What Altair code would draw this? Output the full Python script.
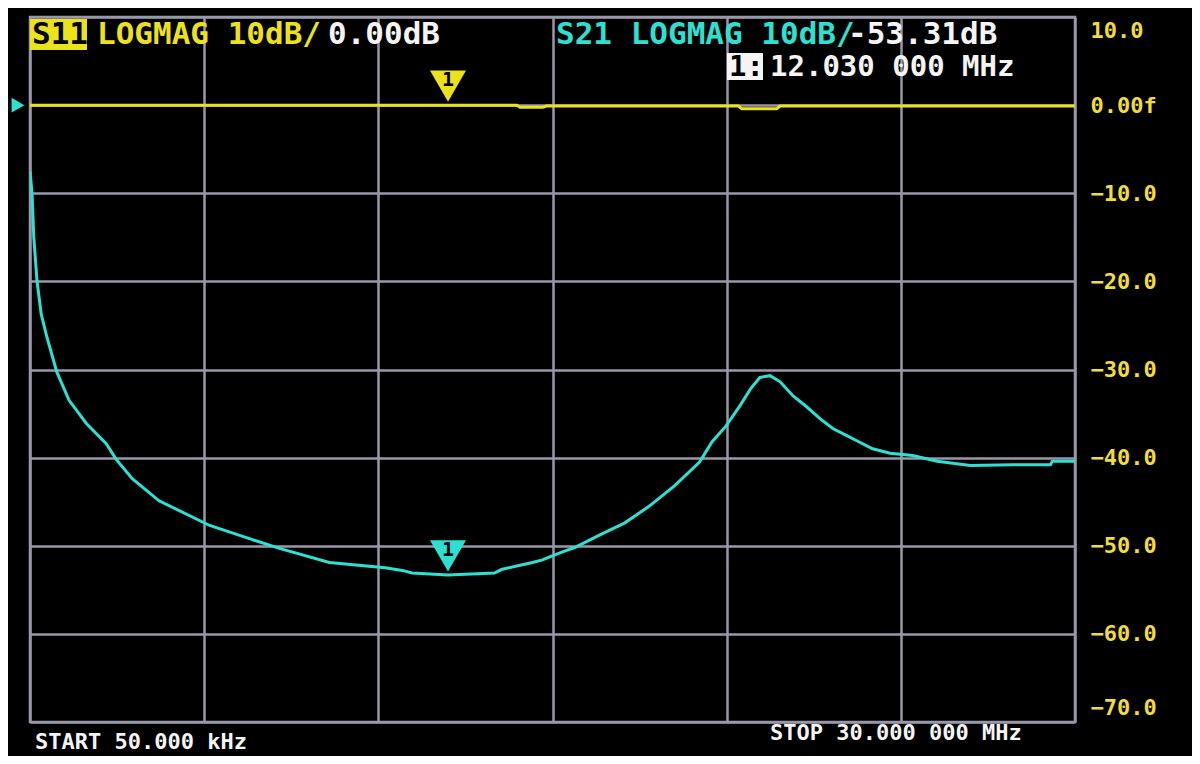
import altair as alt
import pandas as pd

# ---- data ----
s21_freq_mhz = [0.05, 0.11, 0.16, 0.25, 0.37, 0.54, 0.82, 1.17, 1.66, 2.23, 2.52, 2.98,
                3.75, 5.2, 6.34, 7.2, 8.63, 10.23, 10.72, 11.0, 12.03, 13.36, 13.56,
                14.0, 14.45, 14.74, 15.05, 15.37, 15.66, 16.37, 17.1, 17.8, 18.52,
                19.24, 19.6, 20.0, 20.4, 20.7, 20.97, 21.26, 21.55, 21.92, 22.3, 22.7,
                23.06, 23.46, 23.8, 24.2, 24.7, 25.35, 26.05, 27.0, 28.2, 29.3, 29.35, 30.0]
s21_db = [-7.5, -10.1, -15.1, -19.9, -23.7, -26.4, -30.3, -33.5, -36.1, -38.4, -40.2, -42.4,
          -44.9, -47.7, -49.2, -50.3, -51.9, -52.5, -52.8, -53.1, -53.31, -53.1, -52.7,
          -52.3, -51.9, -51.6, -51.1, -50.6, -50.2, -48.8, -47.4, -45.5, -43.2,
          -40.5, -38.2, -36.4, -34.1, -32.2, -30.9, -30.7, -31.4, -33.0, -34.2, -35.6,
          -36.7, -37.5, -38.2, -39.0, -39.5, -39.75, -40.4, -40.9, -40.8, -40.8, -40.4, -40.4]

s11_freq_mhz = [0.05, 14.0, 14.1, 14.75, 14.85, 20.35, 20.45, 21.45, 21.55, 30.0]
s11_db = [0.0, 0.0, -0.25, -0.25, -0.1, -0.1, -0.4, -0.4, -0.1, -0.1]

marker_freq = 12.03
marker_s11_db = 0.0
marker_s21_db = -53.31

y_ticks = [10, 0, -10, -20, -30, -40, -50, -60, -70]
x_grid_mhz = [0.05, 5.04, 10.03, 15.03, 20.02, 25.01, 30.0]

traces = ["S11", "S21"]
header_s11 = ["S11", "LOGMAG 10dB/", "0.00dB"]
header_s21 = ["S21 LOGMAG 10dB/", "-53.31dB"]
marker_line = ["1:", "12.030 000 MHz"]
start_label = "START 50.000 kHz"
stop_label = "STOP 30.000 000 MHz"
marker_num = "1"

# ---- styling ----
YELLOW = "#ece21c"
CYAN = "#2fe0d2"
GRID = "#9898aa"
WHITE = "#f4f4f4"
FONT = "DejaVu Sans Mono"

W, H = 1045, 705

df = pd.concat([
    pd.DataFrame({"freq": s21_freq_mhz, "db": s21_db, "trace": "S21"}),
    pd.DataFrame({"freq": s11_freq_mhz, "db": s11_db, "trace": "S11"}),
])

xscale = alt.Scale(domain=[0.05, 30], nice=False, zero=False)
yscale = alt.Scale(domain=[-70, 10], nice=False, zero=False)

lines = alt.Chart(df).mark_line(strokeWidth=3, clip=True).encode(
    x=alt.X("freq:Q", scale=xscale,
            axis=alt.Axis(values=x_grid_mhz, labels=False, ticks=False, domain=False,
                          grid=True, title=None)),
    y=alt.Y("db:Q", scale=yscale,
            axis=alt.Axis(orient="right", values=y_ticks, ticks=False, domain=False,
                          grid=True, title=None, labelPadding=15, labelAlign="left",
                          labelFlush=True, labelFlushOffset=-3,
                          labelExpr="datum.value == 0 ? '0.00f' : format(datum.value, '.1f')")),
    color=alt.Color("trace:N", scale=alt.Scale(domain=traces, range=[YELLOW, CYAN]), legend=None),
    order=alt.Order("freq:Q"),
)

mk = pd.DataFrame({"freq": [marker_freq, marker_freq], "db": [marker_s11_db, marker_s21_db],
                   "trace": traces, "num": [marker_num, marker_num]})

marker_tri = alt.Chart(mk).mark_point(shape="triangle-down", filled=True, opacity=1,
                                      size=1300, yOffset=-19).encode(
    x=alt.X("freq:Q", scale=xscale),
    y=alt.Y("db:Q", scale=yscale),
    color=alt.Color("trace:N", scale=alt.Scale(domain=traces, range=[YELLOW, CYAN]), legend=None),
)
marker_txt = alt.Chart(mk).mark_text(font=FONT, fontSize=20, fontWeight="bold", color="black",
                                     yOffset=-25).encode(
    x=alt.X("freq:Q", scale=xscale),
    y=alt.Y("db:Q", scale=yscale),
    text="num:N",
)

ref_arrow = alt.Chart(pd.DataFrame({"db": [marker_s11_db]})).mark_point(
    shape="triangle-right", filled=True, opacity=1, size=220, color=CYAN).encode(
    x=alt.value(-12), y=alt.Y("db:Q", scale=yscale))


def label(txt, x, y, color, size=31, weight="bold", align="left"):
    return alt.Chart(pd.DataFrame({"t": [txt]})).mark_text(
        font=FONT, fontSize=size, fontWeight=weight, color=color, align=align,
        baseline="middle").encode(text="t:N", x=alt.value(x), y=alt.value(y))


def box(x, x2, y, y2, color):
    return alt.Chart(pd.DataFrame({"a": [0]})).mark_rect(color=color).encode(
        x=alt.value(x), x2=alt.value(x2), y=alt.value(y), y2=alt.value(y2))


layers = [
    lines,
    marker_tri,
    marker_txt,
    ref_arrow,
    box(0, 57, 2, 33, YELLOW),
    label(header_s11[0], 2, 18, "black"),
    label(header_s11[1], 67, 18, YELLOW),
    label(header_s11[2], 298, 18, WHITE),
    label(header_s21[0], 526, 18, CYAN),
    label(header_s21[1], 818, 18, WHITE),
    box(697, 733, 36, 63, WHITE),
    label(marker_line[0], 699, 50, "black", size=29),
    label(marker_line[1], 740, 50, WHITE, size=29),
    label(start_label, 5, 725, WHITE, size=22),
    label(stop_label, 740, 716, WHITE, size=22),
]

chart = alt.layer(*layers).properties(
    width=W, height=H,
    autosize=alt.AutoSizeParams(type="none"),
    padding={"left": 22, "top": 9, "right": 117, "bottom": 34},
    background="black",
).configure_view(
    stroke=GRID, strokeWidth=2.5,
).configure_axis(
    gridColor=GRID, gridWidth=2.5, gridOpacity=1,
    labelColor="#f0dc3c", labelFont=FONT, labelFontSize=22, labelFontWeight="bold",
)

chart.save("out.html", embed_options={"renderer": "svg", "actions": False})
